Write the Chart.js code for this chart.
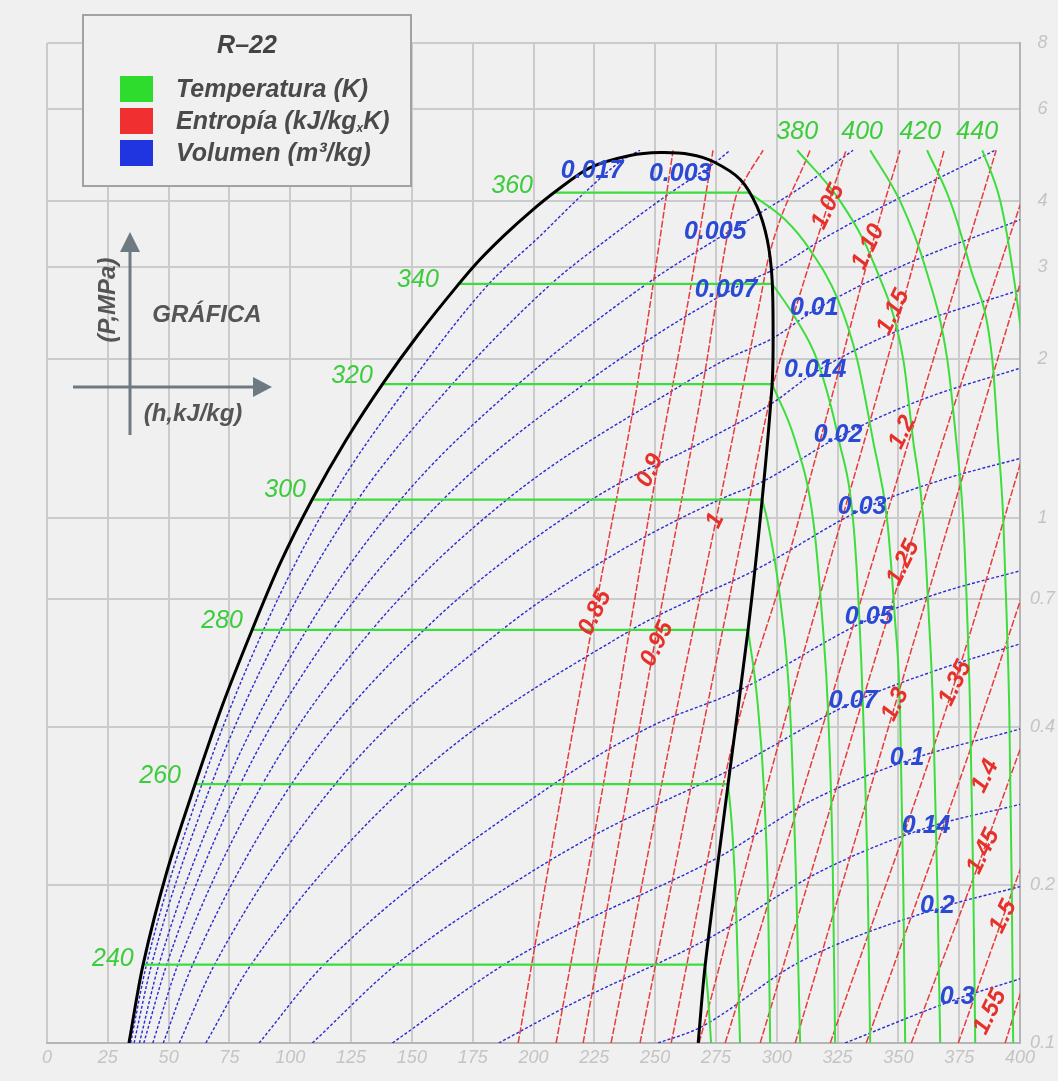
<!DOCTYPE html>
<html>
<head>
<meta charset="utf-8">
<script src="https://cdn.jsdelivr.net/npm/chart.js@4.4.1/dist/chart.umd.min.js"></script>
<style>
  html, body { margin: 0; padding: 0; background: #f0f0f0; }
  #wrap { width: 1058px; height: 1081px; }
</style>
</head>
<body>
<div id="wrap"><canvas id="ph" width="1058" height="1081"></canvas></div>
<script>
// R-22 : diagrama presion-entalpia
const hMin = 0, hMax = 400, hStep = 25;
const pTicks = [0.1, 0.2, 0.4, 0.7, 1, 2, 3, 4, 6, 8];

// campana de saturacion [h kJ/kg, P MPa]
const domeCurve = [
  [33.7, 0.1], [39.5, 0.141], [49.3, 0.212], [60.9, 0.311], [72.0, 0.438],
  [84.3, 0.611], [95.8, 0.817], [109.0, 1.082], [122.9, 1.403], [138.2, 1.802],
  [152.5, 2.225], [167.8, 2.730], [178.0, 3.097], [188.3, 3.455], [198.6, 3.814],
  [209.7, 4.195], [223.3, 4.634], [239.7, 4.887], [252.1, 4.95], [264.4, 4.91],
  [273.8, 4.76], [285.0, 4.40], [291.9, 3.905], [296.1, 3.378], [298.1, 2.834],
  [298.5, 2.177], [298.1, 1.794], [294.0, 1.082], [288.2, 0.611], [280.0, 0.311],
  [270.6, 0.141], [267.7, 0.1]
];

// isotermas (K)
const tempLabels = ['240', '260', '280', '300', '320', '340', '360', '380', '400', '420', '440'];
const tempSatP = [0.141, 0.311, 0.611, 1.082, 1.794, 2.785, 4.152];
const tempLiquid = [39.5, 60.9, 84.3, 109.0, 137.9, 168.8, 208.5];
const tempVapour = [270.6, 280.0, 288.2, 294.0, 298.1, 298.1, 288.5];
const tempCurves = [
  [[270.6, 0.141], [271.9, 0.12], [273.0, 0.1]],
  [[280.0, 0.311], [281.8, 0.25], [283.3, 0.18], [284.9, 0.1]],
  [[288.2, 0.611], [292.0, 0.45], [294.8, 0.3], [296.5, 0.18], [297.3, 0.1]],
  [[294.0, 1.082], [296.1, 0.99], [301.4, 0.7], [305.5, 0.428], [308.0, 0.2], [309.6, 0.1]],
  [[298.1, 1.794], [307.6, 1.4], [315.0, 0.987], [318.6, 0.65], [321.1, 0.428], [323.0, 0.22], [324.0, 0.1]],
  [[298.1, 2.785], [307.6, 2.4], [316.6, 1.994], [325.6, 1.4], [331.4, 0.987], [333.9, 0.65], [335.5, 0.428], [337.4, 0.2], [338.4, 0.1]],
  [[288.5, 4.152], [303.5, 3.688], [313.7, 3.232], [325.2, 2.595], [333.1, 1.994], [339.6, 1.4], [345.4, 0.987], [348.5, 0.65], [350.7, 0.428], [352.0, 0.2], [352.8, 0.1]],
  [[308.4, 5.0], [326.1, 4.0], [340.5, 3.0], [352.0, 2.0], [356.1, 1.4], [360.2, 1.0], [362.5, 0.65], [364.3, 0.428], [366.0, 0.2], [367.2, 0.1]],
  [[338.4, 5.0], [350.7, 4.0], [361.0, 3.0], [370.1, 2.0], [373.8, 1.4], [376.6, 1.0], [378.3, 0.65], [379.5, 0.428], [380.8, 0.2], [381.6, 0.1]],
  [[361.8, 5.0], [371.3, 4.0], [379.5, 3.0], [388.6, 2.0], [391.0, 1.4], [393.1, 1.0], [394.5, 0.65], [395.6, 0.428], [396.6, 0.2], [397.2, 0.1]],
  [[384.5, 5.0], [391.9, 4.0], [396.8, 3.0], [401.7, 2.0], [404.5, 1.4]]
];
const tempLabelPos = [
  [27.1, 0.1446], [46.5, 0.322], [72.0, 0.636], [97.9, 1.126], [125.4, 1.858], [152.5, 2.834],
  [191.2, 4.283], [308.4, 5.404], [335.1, 5.404], [359.0, 5.404], [382.4, 5.404]
];

// isentropicas (kJ/kg.K)
const entLabels = ['0.85', '0.9', '0.95', '1', '1.05', '1.10', '1.15', '1.2', '1.25', '1.3', '1.35', '1.4', '1.45', '1.5', '1.55'];
const entCurves = [
  [[193.7, 0.1], [210.9, 0.288], [225.3, 0.665], [243.0, 1.826], [257.4, 5.0]],
  [[209.3, 0.1], [228.2, 0.301], [250.0, 1.177], [264.4, 2.712], [273.8, 5.0]],
  [[220.4, 0.1], [250.0, 0.583], [268.5, 1.672], [282.9, 4.03], [287.0, 4.40], [294.4, 5.0]],
  [[231.9, 0.1], [256.2, 0.375], [276.7, 1.079], [293.2, 2.595], [296.9, 3.162], [313.7, 5.0]],
  [[243.8, 0.1], [268.5, 0.375], [287.0, 0.987], [298.5, 1.786], [301.4, 1.994], [321.1, 3.94], [328.5, 5.0]],
  [[256.6, 0.1], [282.1, 0.375], [305.5, 0.865], [326.1, 1.95], [339.2, 3.304], [350.7, 5.0]],
  [[268.1, 0.1], [305.5, 0.447], [345.4, 1.994], [368.8, 5.0]],
  [[278.8, 0.1], [322.0, 0.447], [364.3, 1.994], [390.2, 5.0]],
  [[293.2, 0.1], [352.8, 0.828], [381.6, 2.177], [400.1, 3.94], [406.2, 4.8]],
  [[307.6, 0.1], [348.7, 0.441], [391.9, 2.083], [404.2, 3.232]],
  [[322.0, 0.1], [373.4, 0.489], [404.2, 1.466]],
  [[336.8, 0.1], [383.6, 0.410], [404.2, 0.792]],
  [[355.3, 0.1], [384.9, 0.2315], [404.2, 0.410]],
  [[374.6, 0.1], [393.1, 0.174], [404.2, 0.2415]],
  [[393.9, 0.1], [404.2, 0.1428]]
];
const entLabelPos = [
  [225.3, 0.659], [247.9, 1.229], [250.8, 0.575], [274.7, 0.987], [321.1, 3.905],
  [337.6, 3.276], [347.9, 2.462], [351.6, 1.453], [352.0, 0.821], [348.7, 0.441],
  [373.4, 0.4843], [385.7, 0.322], [384.9, 0.2315], [393.1, 0.174], [387.7, 0.1146]
];

// isocoras (m3/kg)
const volLabels = ['0.017', '0.003', '0.005', '0.007', '0.01', '0.014', '0.02', '0.03', '0.05', '0.07', '0.1', '0.14', '0.2', '0.3'];
const volCurves = [
  [[34.4, 0.1], [40.9, 0.141], [63.7, 0.311], [89.0, 0.611], [116.5, 1.082], [149.0, 1.794], [181.7, 2.785], [201.7, 3.4], [221.0, 4.152], [236.8, 4.8], [243.8, 5.0]],
  [[35.8, 0.1], [43.0, 0.141], [67.6, 0.311], [96.0, 0.611], [127.8, 1.082], [166.6, 1.794], [207.3, 2.785], [230.9, 3.4], [256.4, 4.152], [274.7, 4.74], [280.8, 5.0]],
  [[38.0, 0.1], [46.0, 0.141], [73.6, 0.311], [106.7, 0.611], [145.4, 1.082], [193.7, 1.794], [246.6, 2.785], [275.9, 3.4], [293.2, 3.80], [311.7, 4.302], [331.4, 5.0]],
  [[39.8, 0.1], [49.2, 0.141], [79.5, 0.311], [117.5, 0.611], [162.8, 1.082], [220.8, 1.794], [285.9, 2.785], [297.7, 2.948], [322.0, 3.453], [350.7, 4.063], [389.8, 5.0]],
  [[43.5, 0.1], [53.8, 0.141], [88.6, 0.311], [133.5, 0.611], [189.1, 1.082], [261.5, 1.794], [279.2, 2.0], [298.5, 2.196], [315.8, 2.484], [350.7, 3.0], [400.1, 3.688]],
  [[47.8, 0.1], [59.9, 0.141], [100.5, 0.311], [155.0, 0.611], [224.0, 1.082], [270.5, 1.4], [298.1, 1.65], [315.8, 1.891], [350.7, 2.275], [400.1, 2.712]],
  [[54.4, 0.1], [68.9, 0.141], [118.5, 0.311], [187.0, 0.611], [233.0, 0.85], [276.5, 1.082], [294.4, 1.172], [325.2, 1.421], [359.0, 1.672], [400.1, 1.925]],
  [[65.3, 0.1], [83.9, 0.141], [148.4, 0.311], [240.2, 0.611], [265.5, 0.7], [289.9, 0.789], [335.1, 1.036], [367.2, 1.177], [400.1, 1.296]],
  [[87.2, 0.1], [113.9, 0.141], [208.3, 0.311], [248.1, 0.4], [284.9, 0.470], [337.6, 0.639], [367.2, 0.719], [400.1, 0.792]],
  [[109.1, 0.1], [143.5, 0.141], [190.7, 0.2], [226.0, 0.25], [280.4, 0.3304], [331.4, 0.445], [367.2, 0.515], [400.1, 0.575]],
  [[142.0, 0.1], [187.9, 0.141], [220.4, 0.17], [275.1, 0.2244], [313.7, 0.2884], [354.0, 0.345], [400.1, 0.396]],
  [[185.7, 0.1], [217.7, 0.12], [271.8, 0.158], [317.8, 0.2119], [361.0, 0.2562], [400.1, 0.2846]],
  [[251.2, 0.1], [268.1, 0.1068], [309.6, 0.1428], [366.0, 0.1802], [400.1, 0.1985]],
  [[328.1, 0.1], [374.2, 0.1213], [400.1, 0.1325]]
];
const volLabelPos = [
  [224.1, 4.555], [260.3, 4.495], [274.7, 3.499], [279.2, 2.712], [315.4, 2.506], [315.8, 1.908],
  [325.2, 1.434], [335.1, 1.045], [338.0, 0.645], [331.4, 0.447], [353.6, 0.348], [361.4, 0.2585],
  [366.0, 0.1818], [374.2, 0.1224]
];

const legendItems = ['Temperatura (K)', 'Entropía (kJ/kg', 'Volumen (m³/kg)'];

const GREEN = '#3ddd3d';
const RED = '#e63c3c';
const BLUE = '#2b2bd2';
const FONT = '"Liberation Sans", Arial, sans-serif';

const toXY = (arr) => arr.map(([h, p]) => ({ x: h, y: p }));

const datasets = [];
datasets.push({
  data: toXY(domeCurve), borderColor: '#000', borderWidth: 3, tension: 0.3
});
tempSatP.forEach((p, i) => {
  datasets.push({
    data: toXY([[tempLiquid[i], p], [tempVapour[i], p]]),
    borderColor: GREEN, borderWidth: 2.2
  });
});
tempCurves.forEach((c) => {
  datasets.push({ data: toXY(c), borderColor: GREEN, borderWidth: 2, cubicInterpolationMode: 'monotone' });
});
entCurves.forEach((c) => {
  datasets.push({ data: toXY(c), borderColor: RED, borderWidth: 1.5, borderDash: [7, 2], cubicInterpolationMode: 'monotone' });
});
volCurves.forEach((c) => {
  datasets.push({ data: toXY(c), borderColor: BLUE, borderWidth: 1.4, borderDash: [3, 2], cubicInterpolationMode: 'monotone' });
});
datasets.forEach((d) => {
  d.showLine = true;
  d.pointRadius = 0;
  d.fill = false;
  d.capBezierPoints = false;
});

// rotulos sobre las curvas
const curveLabels = {
  id: 'curveLabels',
  afterDatasetsDraw(chart) {
    const { ctx } = chart;
    const xs = chart.scales.x, ys = chart.scales.y;
    const put = (text, pos, font, color, angle) => {
      ctx.save();
      ctx.translate(xs.getPixelForValue(pos[0]), ys.getPixelForValue(pos[1]));
      if (angle) ctx.rotate(angle * Math.PI / 180);
      ctx.font = font;
      ctx.fillStyle = color;
      ctx.textAlign = 'center';
      ctx.textBaseline = 'middle';
      ctx.fillText(text, 0, 0);
      ctx.restore();
    };
    tempLabels.forEach((t, i) => put(t, tempLabelPos[i], 'italic 25px ' + FONT, '#3ccc3c', 0));
    entLabels.forEach((t, i) => put(t, entLabelPos[i], 'italic bold 24px ' + FONT, '#e8302a', -64));
    volLabels.forEach((t, i) => put(t, volLabelPos[i], 'italic bold 25px ' + FONT, '#2a4ad6', 0));
  }
};

// cuadro de leyenda y esquema de ejes
const overlay = {
  id: 'overlay',
  afterDraw(chart) {
    const { ctx } = chart;
    ctx.save();
    ctx.fillStyle = '#f0f0f0';
    ctx.fillRect(83, 15, 328, 171);
    ctx.strokeStyle = '#a2a2a2';
    ctx.lineWidth = 2;
    ctx.strokeRect(83, 15, 328, 171);
    ctx.fillStyle = '#444';
    ctx.font = 'italic bold 25px ' + FONT;
    ctx.textAlign = 'center';
    ctx.textBaseline = 'middle';
    ctx.fillText('R\u201322', 247, 46);
    const sw = ['#2edc2e', '#f03030', '#2035e0'];
    legendItems.forEach((t, i) => {
      const rowY = 90 + i * 32;
      ctx.fillStyle = sw[i];
      ctx.fillRect(120, 76 + i * 32, 33, 26);
      ctx.fillStyle = '#4a4a4a';
      ctx.textAlign = 'left';
      ctx.font = 'italic bold 25px ' + FONT;
      ctx.fillText(t, 176, rowY);
      if (i === 1) {
        let x = 176 + ctx.measureText(t).width;
        ctx.font = 'italic bold 12px ' + FONT;
        ctx.fillText('x', x, rowY + 7);
        x += ctx.measureText('x').width;
        ctx.font = 'italic bold 25px ' + FONT;
        ctx.fillText('K)', x, rowY);
      }
    });

    ctx.strokeStyle = '#6e7a82';
    ctx.fillStyle = '#6e7a82';
    ctx.lineWidth = 3;
    ctx.beginPath();
    ctx.moveTo(130, 435); ctx.lineTo(130, 248);
    ctx.moveTo(73, 387); ctx.lineTo(256, 387);
    ctx.stroke();
    ctx.beginPath();
    ctx.moveTo(130, 232); ctx.lineTo(120, 252); ctx.lineTo(140, 252); ctx.closePath();
    ctx.moveTo(272, 387); ctx.lineTo(253, 377); ctx.lineTo(253, 397); ctx.closePath();
    ctx.fill();

    ctx.fillStyle = '#555';
    ctx.font = 'italic bold 24px ' + FONT;
    ctx.textAlign = 'center';
    ctx.fillText('GRÁFICA', 207, 315);
    ctx.fillText('(h,kJ/kg)', 193, 414);
    ctx.translate(108, 300);
    ctx.rotate(-Math.PI / 2);
    ctx.fillText('(P,MPa)', 0, 0);
    ctx.restore();
  }
};

new Chart(document.getElementById('ph'), {
  type: 'scatter',
  data: { datasets },
  options: {
    responsive: false,
    animation: false,
    devicePixelRatio: 1,
    events: [],
    layout: { padding: { left: 47, top: 43, right: 0, bottom: 0 } },
    plugins: { legend: { display: false }, tooltip: { enabled: false } },
    scales: {
      x: {
        type: 'linear',
        min: hMin,
        max: hMax,
        ticks: {
          stepSize: hStep,
          color: '#c4c4c4',
          font: { size: 18, style: 'italic', family: FONT },
          padding: 4,
          maxRotation: 0
        },
        grid: { color: '#cbcbcb', lineWidth: 2, drawTicks: false },
        border: { color: '#b5b5b5', width: 2 },
        afterFit(scale) { scale.height = 38; }
      },
      y: {
        type: 'logarithmic',
        position: 'right',
        min: 0.1,
        max: 8,
        afterBuildTicks(scale) { scale.ticks = pTicks.map((v) => ({ value: v })); },
        ticks: {
          color: '#c4c4c4',
          font: { size: 18, style: 'italic', family: FONT },
          crossAlign: 'center',
          padding: 10,
          callback: (v) => String(v)
        },
        grid: { color: '#cbcbcb', lineWidth: 2, drawTicks: false },
        border: { color: '#b5b5b5', width: 2 },
        afterFit(scale) { scale.width = 38; }
      }
    }
  },
  plugins: [curveLabels, overlay]
});
</script>
</body>
</html>
